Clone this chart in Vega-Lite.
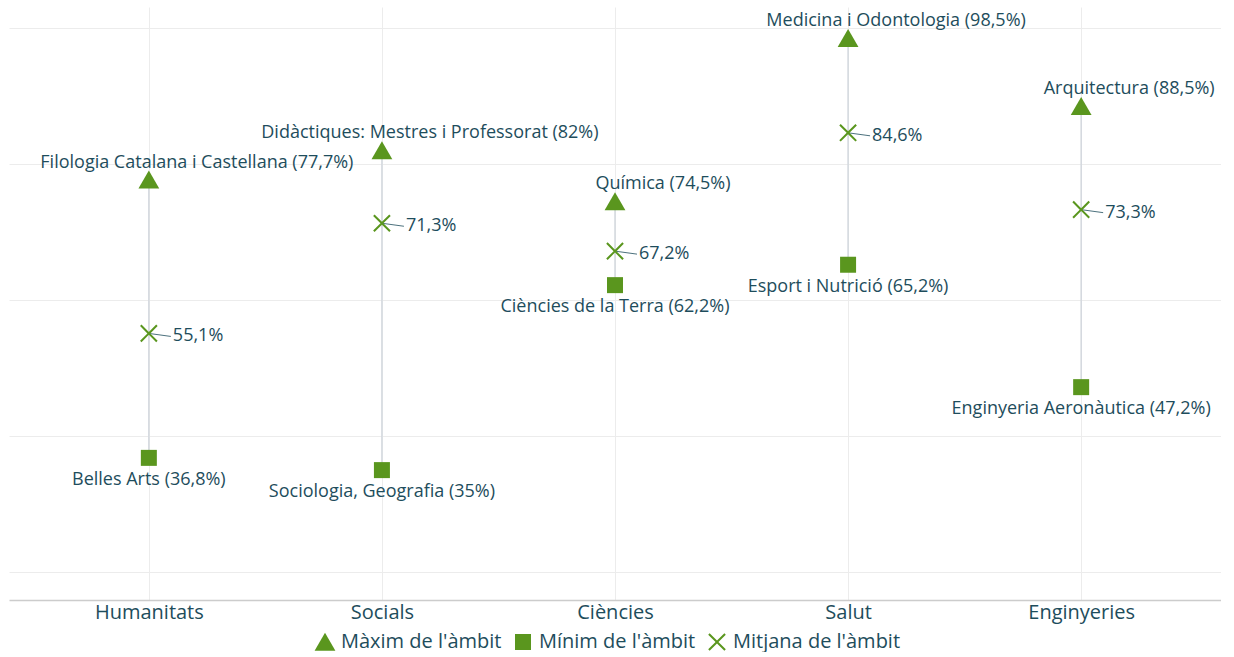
{
  "$schema": "https://vega.github.io/schema/vega-lite/v6.json",
  "width": 1212,
  "height": 593,
  "padding": {"left": 9, "top": 7, "right": 0, "bottom": 0},
  "background": "white",
  "config": {
    "view": {"stroke": null},
    "font": "Open Sans",
    "text": {"font": "Open Sans"}
  },
  "data": {
    "values": [
      {"ambit": "Humanitats", "serie": "Màxim de l'àmbit", "value": 77.7, "label": "Filologia Catalana i Castellana (77,7%)"},
      {"ambit": "Humanitats", "serie": "Mínim de l'àmbit", "value": 36.8, "label": "Belles Arts (36,8%)"},
      {"ambit": "Humanitats", "serie": "Mitjana de l'àmbit", "value": 55.1, "label": "55,1%"},
      {"ambit": "Socials", "serie": "Màxim de l'àmbit", "value": 82, "label": "Didàctiques: Mestres i Professorat (82%)"},
      {"ambit": "Socials", "serie": "Mínim de l'àmbit", "value": 35, "label": "Sociologia, Geografia (35%)"},
      {"ambit": "Socials", "serie": "Mitjana de l'àmbit", "value": 71.3, "label": "71,3%"},
      {"ambit": "Ciències", "serie": "Màxim de l'àmbit", "value": 74.5, "label": "Química (74,5%)"},
      {"ambit": "Ciències", "serie": "Mínim de l'àmbit", "value": 62.2, "label": "Ciències de la Terra (62,2%)"},
      {"ambit": "Ciències", "serie": "Mitjana de l'àmbit", "value": 67.2, "label": "67,2%"},
      {"ambit": "Salut", "serie": "Màxim de l'àmbit", "value": 98.5, "label": "Medicina i Odontologia (98,5%)"},
      {"ambit": "Salut", "serie": "Mínim de l'àmbit", "value": 65.2, "label": "Esport i Nutrició (65,2%)"},
      {"ambit": "Salut", "serie": "Mitjana de l'àmbit", "value": 84.6, "label": "84,6%"},
      {"ambit": "Enginyeries", "serie": "Màxim de l'àmbit", "value": 88.5, "label": "Arquitectura (88,5%)"},
      {"ambit": "Enginyeries", "serie": "Mínim de l'àmbit", "value": 47.2, "label": "Enginyeria Aeronàutica (47,2%)"},
      {"ambit": "Enginyeries", "serie": "Mitjana de l'àmbit", "value": 73.3, "label": "73,3%"}
    ]
  },
  "encoding": {
    "x": {
      "field": "ambit",
      "type": "nominal",
      "sort": ["Humanitats", "Socials", "Ciències", "Salut", "Enginyeries"],
      "scale": {"type": "point", "padding": 0.6},
      "axis": {
        "title": null,
        "labelAngle": 0,
        "labelFontSize": 20,
        "labelColor": "#1e4d5c",
        "labelPadding": 2,
        "ticks": false,
        "domainColor": "#cccccc",
        "domainWidth": 1.5,
        "grid": true,
        "gridColor": "#ececec"
      }
    },
    "y": {
      "field": "value",
      "type": "quantitative",
      "scale": {"domain": [15.9, 103.1], "nice": false, "zero": false},
      "axis": {
        "title": null,
        "labels": false,
        "ticks": false,
        "domain": false,
        "values": [20, 40, 60, 80, 100],
        "grid": true,
        "gridColor": "#ececec"
      }
    }
  },
  "layer": [
    {
      "mark": {"type": "rule", "color": "#d3d8de", "strokeWidth": 1.5},
      "encoding": {
        "y": {"aggregate": "min", "field": "value", "type": "quantitative"},
        "y2": {"aggregate": "max", "field": "value"}
      }
    },
    {
      "transform": [{"filter": "datum.serie === \"Mitjana de l'àmbit\""}],
      "mark": {"type": "rule", "color": "#1e4d5c", "strokeWidth": 0.8, "x2Offset": 22, "y2Offset": 3},
      "encoding": {
        "x2": {"field": "ambit"},
        "y2": {"field": "value"}
      }
    },
    {
      "mark": {"type": "point", "filled": true, "fill": "#5a961e", "strokeWidth": 0, "opacity": 1, "size": 256},
      "encoding": {
        "shape": {
          "field": "serie",
          "type": "nominal",
          "scale": {
            "domain": ["Màxim de l'àmbit", "Mínim de l'àmbit", "Mitjana de l'àmbit"],
            "range": [
              "M0,-1.15L1.3,1.1L-1.3,1.1Z",
              "M-1,-1H1V1H-1Z",
              "M-0.92,-1.1L0,-0.18L0.92,-1.1L1.1,-0.92L0.18,0L1.1,0.92L0.92,1.1L0,0.18L-0.92,1.1L-1.1,0.92L-0.18,0L-1.1,-0.92Z"
            ]
          },
          "legend": {
            "title": null,
            "orient": "none",
            "legendX": 306,
            "legendY": 625,
            "direction": "horizontal",
            "labelFontSize": 20,
            "labelLimit": 400,
            "labelColor": "#1e4d5c",
            "symbolSize": 256,
            "symbolFillColor": "#5a961e",
            "symbolStrokeWidth": 0,
            "columnPadding": 11,
            "labelOffset": 6,
            "padding": 0,
            "encode": {
              "symbols": {
                "update": {
                  "fill": {"value": "#5a961e"},
                  "opacity": {"value": 1}
                }
              }
            }
          }
        }
      }
    },
    {
      "transform": [{"filter": "datum.serie === \"Màxim de l'àmbit\""}],
      "mark": {"type": "text", "fontSize": 18, "color": "#1e4d5c", "align": "center", "baseline": "middle", "dx": 48, "dy": -17},
      "encoding": {"text": {"field": "label"}}
    },
    {
      "transform": [{"filter": "datum.serie === \"Mínim de l'àmbit\""}],
      "mark": {"type": "text", "fontSize": 18, "color": "#1e4d5c", "align": "center", "baseline": "middle", "dy": 22},
      "encoding": {"text": {"field": "label"}}
    },
    {
      "transform": [{"filter": "datum.serie === \"Mitjana de l'àmbit\""}],
      "mark": {"type": "text", "fontSize": 18, "color": "#1e4d5c", "align": "left", "baseline": "middle", "dx": 24, "dy": 3},
      "encoding": {"text": {"field": "label"}}
    }
  ]
}
